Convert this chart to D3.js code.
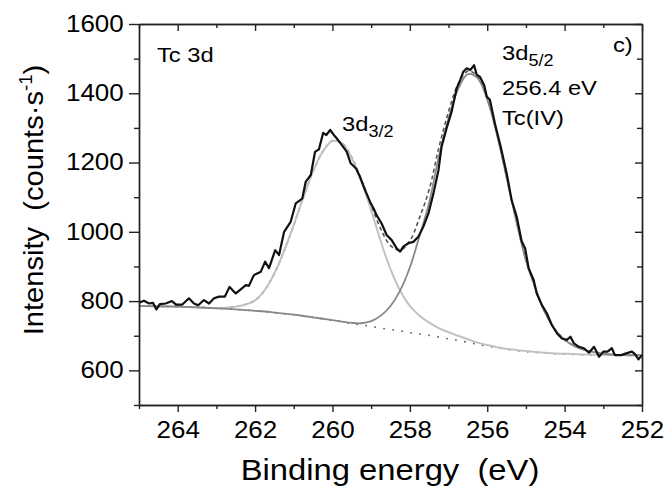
<!DOCTYPE html>
<html>
<head>
<meta charset="utf-8">
<script src="https://cdn.jsdelivr.net/npm/d3@7"></script>
<style>
  body { margin: 0; background: #fff; }
  svg { display: block; font-family: "Liberation Sans", Arial, sans-serif; }
  .axis path, .axis line { stroke: #222; stroke-width: 1.4; }
  .axis text { font-size: 23px; fill: #000; }
</style>
</head>
<body>
<script>
// measured spectrum (binding energy in eV, counts per second)
const energyData = [265.00, 264.87, 264.74, 264.64, 264.55, 264.46, 264.31, 264.15, 264.04, 263.88,
  263.71, 263.58, 263.47, 263.32, 263.19, 263.06, 262.93, 262.78, 262.66, 262.50,
  262.37, 262.24, 262.16, 262.03, 261.85, 261.74, 261.64, 261.48, 261.38, 261.25,
  261.08, 260.95, 260.78, 260.69, 260.56, 260.45, 260.35, 260.24, 260.16, 260.06,
  259.96, 259.89, 259.76, 259.63, 259.53, 259.39, 259.29, 259.16, 259.03, 258.94,
  258.86, 258.73, 258.60, 258.47, 258.34, 258.25, 258.17, 258.04, 257.91, 257.78,
  257.65, 257.52, 257.39, 257.26, 257.18, 257.05, 256.92, 256.79, 256.70, 256.62,
  256.53, 256.44, 256.34, 256.27, 256.19, 256.08, 256.01, 255.93, 255.80, 255.65,
  255.50, 255.37, 255.24, 255.11, 255.02, 254.93, 254.80, 254.72, 254.59, 254.46,
  254.33, 254.20, 254.07, 253.94, 253.85, 253.76, 253.63, 253.50, 253.37, 253.24,
  253.11, 253.00, 252.89, 252.78, 252.70, 252.54, 252.41, 252.26, 252.18, 252.09, 252.00]
const countsData = [795, 801, 793, 795, 776, 791, 793, 800, 790, 790,
  808, 793, 788, 803, 793, 808, 813, 813, 841, 822,
  834, 846, 844, 875, 885, 914, 895, 947, 933, 1000,
  1029, 1082, 1096, 1145, 1164, 1231, 1238, 1286, 1279, 1294,
  1279, 1270, 1251, 1231, 1198, 1183, 1159, 1121, 1087, 1068,
  1048, 1024, 991, 976, 952, 943, 957, 967, 971, 986,
  1015, 1053, 1111, 1178, 1246, 1299, 1347, 1414, 1438, 1462,
  1472, 1467, 1481, 1453, 1448, 1424, 1390, 1381, 1312, 1245,
  1170, 1092, 1044, 973, 952, 895, 861, 822, 789, 765,
  731, 707, 692, 688, 697, 678, 668, 664, 651, 668,
  639, 654, 654, 664, 644, 644, 649, 654, 647, 632, 644]

// fit curves, read on a common energy grid
const fitEnergy = [265, 264.5, 264, 263.5, 263, 262.5, 262.25, 262, 261.75, 261.5,
  261.25, 261, 260.75, 260.5, 260.25, 260, 259.75, 259.5, 259.25, 259,
  258.75, 258.5, 258.25, 258, 257.75, 257.5, 257.25, 257, 256.75, 256.5,
  256.25, 256, 255.75, 255.5, 255.25, 255, 254.75, 254.5, 254.25, 254,
  253.75, 253.5, 253, 252.5, 252]
const background = [786, 785, 784, 782, 779, 776, 774, 772, 770, 767,
  764, 761, 757, 753, 749, 744, 740, 735, 731, 727,
  722, 718, 714, 709, 705, 701, 696, 691, 686, 681,
  675, 670, 665, 661, 657, 654, 652, 650, 648, 647,
  646, 645, 644, 644, 644]
const peak32 = [786, 785, 784, 782, 780, 784, 790, 802, 832, 880,
  945, 1020, 1100, 1175, 1232, 1262, 1255, 1212, 1145, 1062,
  972, 892, 830, 786, 758, 738, 722, 710, 700, 690,
  680, 673, 667, 662, 659, 656, 653, 651, 649, 648,
  647, 646, 645, 644, 644]
const peak52 = [786, 785, 784, 782, 779, 776, 774, 772, 770, 767,
  764, 761, 757, 753, 749, 745, 741, 737, 736, 742,
  758, 786, 831, 897, 988, 1085, 1217, 1328, 1413, 1455,
  1444, 1382, 1281, 1157, 1031, 917, 835, 765, 718, 688,
  670, 659, 648, 644, 644]
const envelope = [786, 785, 784, 782, 780, 784, 790, 802, 832, 880,
  945, 1020, 1100, 1175, 1232, 1263, 1256, 1214, 1150, 1077,
  1008, 960, 947, 974, 1041, 1122, 1243, 1347, 1427, 1464,
  1449, 1385, 1283, 1158, 1033, 919, 836, 766, 719, 689,
  671, 660, 649, 644, 644]

const xMajor = [264, 262, 260, 258, 256, 254, 252]
const xMinor = [265, 263, 261, 259, 257, 255, 253]
const yMajor = [600, 800, 1000, 1200, 1400, 1600]
const yMinor = [500, 700, 900, 1100, 1300, 1500]

const W = 668, H = 487
const stretch = 'scale(1.13,1)' // glyphs in the figure are a bit wide

const svg = d3.select('body').append('svg').attr('width', W).attr('height', H)

const x = d3.scaleLinear().domain([265, 252]).range([139, 642])
const y = d3.scaleLinear().domain([500, 1600]).range([405, 24])

const line = (xs, ys) => d3.line()
  .x((d, i) => x(xs[i]))
  .y(d => y(d))
  .curve(d3.curveCatmullRom)(ys)

// background (dotted)
svg.append('path').attr('d', line(fitEnergy, background))
  .attr('fill', 'none').attr('stroke', '#555').attr('stroke-width', 1.6)
  .attr('stroke-dasharray', '1.6,7.5')
// fit envelope (dashed), mostly hidden under the components and data
svg.append('path').attr('d', line(fitEnergy, envelope))
  .attr('fill', 'none').attr('stroke', '#555').attr('stroke-width', 1.6)
  .attr('stroke-dasharray', '4,3')
// 3d3/2 component
svg.append('path').attr('d', line(fitEnergy, peak32))
  .attr('fill', 'none').attr('stroke', '#c2c2c2').attr('stroke-width', 2)
// 3d5/2 component
svg.append('path').attr('d', line(fitEnergy, peak52))
  .attr('fill', 'none').attr('stroke', '#888').attr('stroke-width', 1.8)
// measured data
svg.append('path').attr('d', d3.line().x((d, i) => x(energyData[i])).y(d => y(d))(countsData))
  .attr('fill', 'none').attr('stroke', '#111').attr('stroke-width', 2.2)
  .attr('stroke-linejoin', 'round')

// axes
const gBottom = svg.append('g').attr('class', 'axis').attr('transform', 'translate(0,405)')
gBottom.call(d3.axisBottom(x).tickValues(xMajor).tickSize(7).tickSizeOuter(0).tickPadding(10).tickFormat(d3.format('d')))
gBottom.selectAll('text').attr('transform', stretch)
gBottom.append('g').call(d3.axisBottom(x).tickValues(xMinor).tickSize(4).tickSizeOuter(0).tickFormat(''))

const gLeft = svg.append('g').attr('class', 'axis').attr('transform', 'translate(139,0)')
gLeft.call(d3.axisLeft(y).tickValues(yMajor).tickSize(10).tickSizeOuter(0).tickFormat(d3.format('d')))
gLeft.selectAll('text').attr('x', -13.5).attr('transform', stretch)
gLeft.append('g').call(d3.axisLeft(y).tickValues(yMinor).tickSize(5).tickSizeOuter(0).tickFormat(''))

const gTop = svg.append('g').attr('class', 'axis').attr('transform', 'translate(0,24)')
gTop.call(d3.axisTop(x).tickValues(xMajor).tickSize(-7).tickSizeOuter(0).tickFormat(''))
gTop.append('g').call(d3.axisTop(x).tickValues(xMinor).tickSize(-4).tickSizeOuter(0).tickFormat(''))

const gRight = svg.append('g').attr('class', 'axis').attr('transform', 'translate(642,0)')
gRight.call(d3.axisRight(y).tickValues(yMajor).tickSize(-7).tickSizeOuter(0).tickFormat(''))
gRight.append('g').call(d3.axisRight(y).tickValues(yMinor).tickSize(-5).tickSizeOuter(0).tickFormat(''))

// axis titles
svg.append('text')
  .attr('transform', `translate(390,480) ${stretch}`)
  .attr('text-anchor', 'middle').style('font-size', '29px').style('white-space', 'pre')
  .attr('fill', '#000')
  .text('Binding energy  (eV)')

const yTitle = svg.append('text')
  .attr('transform', 'translate(43,200) rotate(-90) scale(1.04,1)')
  .attr('text-anchor', 'middle').style('font-size', '28px').style('white-space', 'pre')
  .attr('fill', '#000')
yTitle.append('tspan').text('Intensity  (counts·s')
yTitle.append('tspan').attr('dy', -11).style('font-size', '18px').text('-1')
yTitle.append('tspan').attr('dy', 11).text(')')

// annotations
const note = (px, py, size) => svg.append('text')
  .attr('transform', `translate(${px},${py}) ${stretch}`)
  .style('font-size', size + 'px').attr('fill', '#000')

note(157, 62, 21).text('Tc 3d')
note(613, 52, 21).text('c)')

const t52 = note(502, 60, 21)
t52.append('tspan').text('3d')
t52.append('tspan').attr('dy', 6).style('font-size', '16px').text('5/2')
note(502, 95, 21).text('256.4 eV')
note(502, 125, 21).text('Tc(IV)')

const t32 = note(342, 131, 21)
t32.append('tspan').text('3d')
t32.append('tspan').attr('dy', 6).style('font-size', '16px').text('3/2')
</script>
</body>
</html>
